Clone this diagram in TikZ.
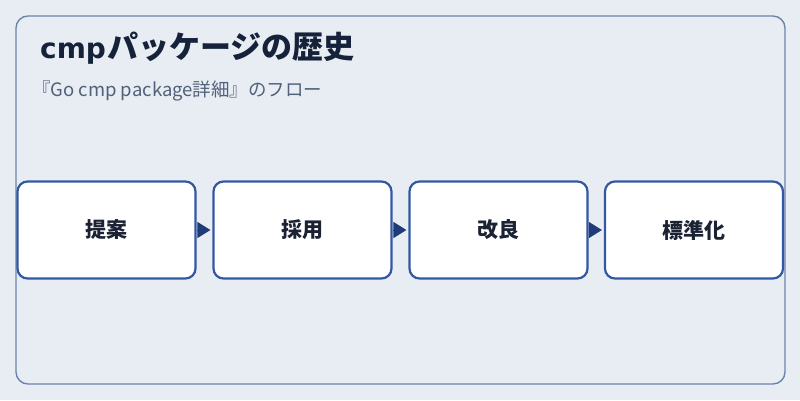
\documentclass[tikz,border=0pt]{standalone}
\usepackage{fontspec}
\setmainfont{Noto Sans CJK JP}
\newfontfamily\latinbold{DejaVu Sans}
\usetikzlibrary{arrows.meta}
\definecolor{bgc}{HTML}{E8EDF3}
\definecolor{framec}{HTML}{6D84AD}
\definecolor{boxc}{HTML}{3358A3}
\definecolor{arrc}{HTML}{1F3B7A}
\definecolor{titlec}{HTML}{15223A}
\definecolor{subc}{HTML}{52617A}
\definecolor{textc}{HTML}{1A2233}
\tikzset{
  stepbox/.style={draw=boxc, line width=2.2pt, fill=white, rounded corners=10pt,
    minimum width=178pt, minimum height=97pt, inner sep=0pt,
    font=\fontsize{21pt}{24pt}\selectfont\bfseries, text=textc},
  flow/.style={draw=arrc, line width=1pt, -{Triangle[length=13pt,width=16pt]}, color=arrc, shorten >=2pt}
}
\begin{document}
\begin{tikzpicture}[x=1pt,y=-1pt]
\useasboundingbox[fill=bgc] (0,0) rectangle (800,400);
\draw[framec, line width=1.4pt, rounded corners=12pt] (16,16) rectangle (785,384);
\node[anchor=base west, inner sep=0pt, text=titlec, font=\fontsize{31pt}{34pt}\selectfont\bfseries] (title) at (40,58) {{\latinbold\fontsize{28pt}{32pt}\selectfont\bfseries cmp}\hspace{1pt}パッケージの歴史};
\node[anchor=base west, inner sep=0pt, text=subc, font=\fontsize{18.5pt}{21pt}\selectfont] (sub) at (32,96) {『Go cmp package詳細』のフロー};
\node[stepbox] (s1) at (106.5,230) {提案};
\node[stepbox] (s2) at (302.5,230) {採用};
\node[stepbox] (s3) at (498.5,230) {改良};
\node[stepbox] (s4) at (694,230) {標準化};
\draw[flow] (s1) -- (s2);
\draw[flow] (s2) -- (s3);
\draw[flow] (s3) -- (s4);
\end{tikzpicture}
\end{document}
